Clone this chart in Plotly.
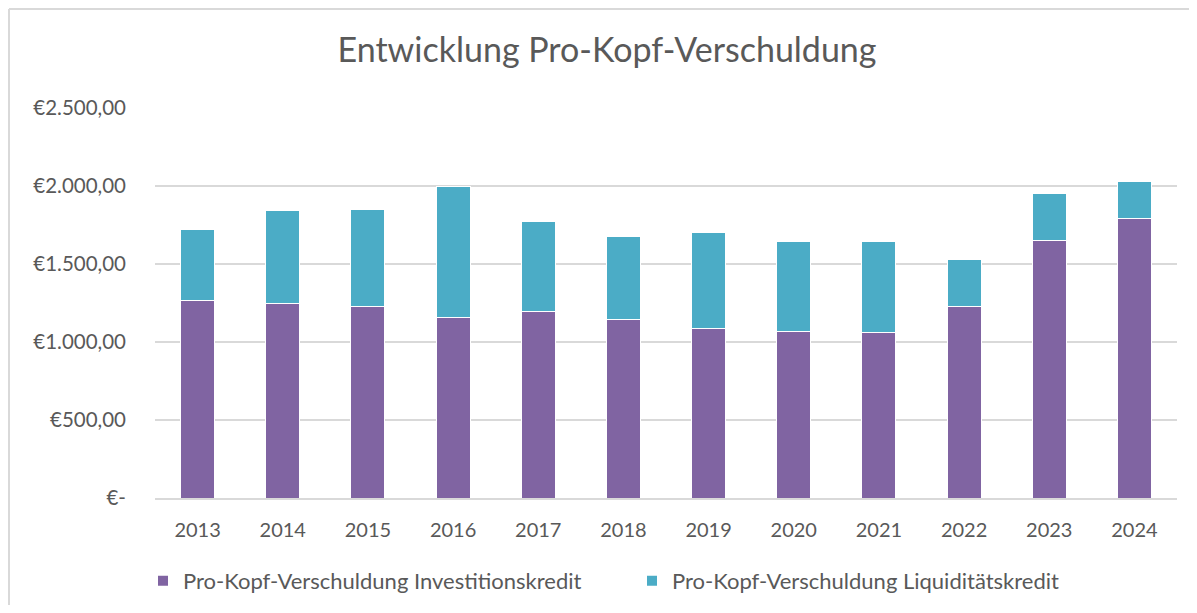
import plotly.graph_objects as go

years = ["2013", "2014", "2015", "2016", "2017", "2018", "2019", "2020", "2021", "2022", "2023", "2024"]
investitionskredit = [1268, 1245, 1226, 1160, 1196, 1147, 1087, 1064, 1060, 1226, 1651, 1792]
liquiditaetskredit = [452, 600, 626, 836, 575, 526, 612, 583, 585, 300, 303, 239]
tick_vals = [0, 500, 1000, 1500, 2000, 2500]
tick_text = ["€-", "€500,00", "€1.000,00", "€1.500,00", "€2.000,00", "€2.500,00"]

FONT = "Lato"
GRAY = "#595959"

fig = go.Figure()
fig.add_trace(go.Bar(x=years, y=investitionskredit, name="Pro-Kopf-Verschuldung Investitionskredit",
                     marker=dict(color="#8064A2", line=dict(color="white", width=1))))
fig.add_trace(go.Bar(x=years, y=liquiditaetskredit, name="Pro-Kopf-Verschuldung Liquiditätskredit",
                     marker=dict(color="#4BACC6", line=dict(color="white", width=1))))

W, H = 1181, 597
PW, PH = 1022, 391
L, T = 147, 99
bx0 = -(L - 1) / PW
by1 = 1 + (T - 1) / PH
border = dict(color="#D9D9D9", width=2)
fig.update_layout(
    barmode="stack",
    bargap=0.6,
    width=W, height=H,
    margin=dict(l=L, r=W - L - PW, t=T, b=H - T - PH, autoexpand=False),
    paper_bgcolor="white", plot_bgcolor="white",
    font=dict(family=FONT, color=GRAY, size=20),
    title=dict(text="Entwicklung Pro-Kopf-Verschuldung", x=599 / W, xanchor="center",
               y=1 - 42 / H, yanchor="middle", font=dict(size=34, color=GRAY, family=FONT)),
    xaxis=dict(showgrid=False, showline=True, linecolor="#D9D9D9", linewidth=1.5,
               tickfont=dict(size=20, color=GRAY), ticks="", ticklabelstandoff=13),
    yaxis=dict(range=[0, 2506], tickvals=tick_vals, ticktext=tick_text,
               showgrid=True, gridcolor="#D9D9D9", gridwidth=1.5, zeroline=False,
               tickfont=dict(size=20.5, color=GRAY), ticks="", ticklabelstandoff=28,
               showline=False),
    legend=dict(orientation="h", x=-12 / PW, xanchor="left", y=-83 / PH, yanchor="middle",
                font=dict(size=22, color=GRAY), entrywidth=444, entrywidthmode="pixels",
                itemsizing="constant", traceorder="normal", bgcolor="rgba(0,0,0,0)"),
    shapes=[
        dict(type="line", xref="paper", yref="paper", x0=bx0, x1=1 + 40 / PW, y0=by1, y1=by1,
             line=border, layer="below"),
        dict(type="line", xref="paper", yref="paper", x0=bx0, x1=bx0, y0=by1, y1=-120 / PH,
             line=border, layer="below"),
    ],
)

fig.write_html("out.html")
